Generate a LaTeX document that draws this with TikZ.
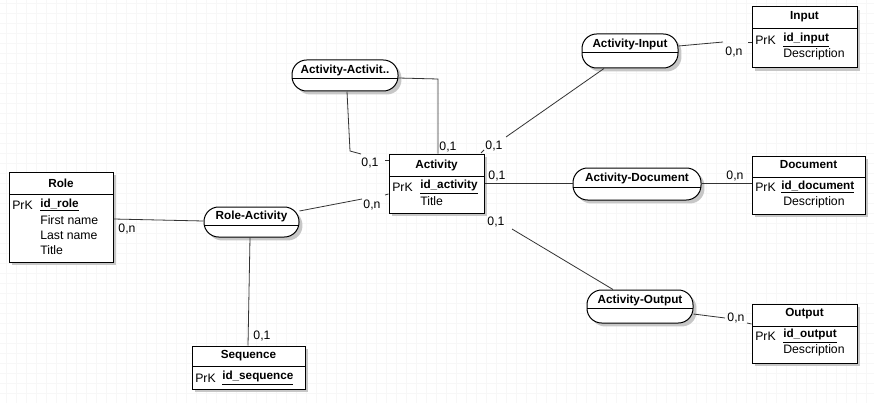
\documentclass[tikz,border=0pt]{standalone}
\usepackage{fontspec}
\setmainfont{Liberation Sans}
\usetikzlibrary{fit,shadows}
\begin{document}
\begin{tikzpicture}[x=0.75pt,y=-0.75pt,
  ent/.style={draw=black, line width=0.75pt, fill=white, inner sep=0pt,
    drop shadow={shadow xshift=2.6pt, shadow yshift=-2.6pt, fill=black!22, opacity=1}},
  rel/.style={ent, rounded corners=11pt},
  ttl/.style={font=\fontsize{8.8}{10}\selectfont\bfseries, inner sep=0pt},
  att/.style={font=\fontsize{9.2}{11}\selectfont, anchor=west, inner sep=0pt},
  key/.style={att, font=\fontsize{8.8}{10}\selectfont\bfseries},
  card/.style={font=\fontsize{9.2}{11}\selectfont, inner sep=0pt},
  conn/.style={draw=black!80, line width=0.6pt},
  sepline/.style={line width=0.75pt},
  gridline/.style={draw=black!3, line width=0.5pt}
]
\path[use as bounding box, fill=white] (0,0) rectangle (874,403);
\foreach \x in {6,16,...,866} \draw[gridline] (\x,0) -- (\x,403);
\foreach \y in {3,13,...,403} \draw[gridline] (0,\y) -- (874,\y);

% ---------- entities ----------
\node[ent, fit={(9,172) (113,262)}] (role) {};
\draw[sepline] (9,194) -- (113,194);
\node[ttl] (roleT) at (61,183) {Role};
\node[att] (roleK) at (12,205) {PrK};
\node[key] (roleA1) at (40,205) {\underline{id\_role}};
\node[att] (roleA2) at (40,220) {First name};
\node[att] (roleA3) at (40,235) {Last name};
\node[att] (roleA4) at (40,250) {Title};

\node[ent, fit={(389,154) (484,213)}] (act) {};
\draw[sepline] (389,176) -- (484,176);
\node[ttl] (actT) at (436.5,165) {Activity};
\node[att] (actK) at (392,187) {PrK};
\node[key] (actA1) at (420,187) {\underline{id\_activity}};
\node[att] (actA2) at (420,201) {Title};

\node[ent, fit={(752,7) (857,68)}] (inp) {};
\draw[sepline] (752,29) -- (857,29);
\node[ttl] (inpT) at (804.5,17) {Input};
\node[att] (inpK) at (755,40) {PrK};
\node[key] (inpA1) at (783,40) {\underline{id\_input}};
\node[att] (inpA2) at (783,54) {Description};

\node[ent, fit={(752,156) (865,214)}] (doc) {};
\draw[sepline] (752,177) -- (865,177);
\node[ttl] (docT) at (808.5,165) {Document};
\node[att] (docK) at (755,187) {PrK};
\node[key] (docA1) at (781,187) {\underline{id\_document}};
\node[att] (docA2) at (783,202) {Description};

\node[ent, fit={(752,304) (857,363)}] (out) {};
\draw[sepline] (752,326) -- (857,326);
\node[ttl] (outT) at (804.5,314) {Output};
\node[att] (outK) at (755,336) {PrK};
\node[key] (outA1) at (783,336) {\underline{id\_output}};
\node[att] (outA2) at (783,350) {Description};

\node[ent, fit={(192,346) (305,389)}] (seq) {};
\draw[sepline] (192,366) -- (305,366);
\node[ttl] (seqT) at (248.5,356) {Sequence};
\node[att] (seqK) at (195,378) {PrK};
\node[key] (seqA1) at (222,378) {\underline{id\_sequence}};

% ---------- relations ----------
\node[rel, fit={(204,207) (299,237)}] (ra) {};
\draw[sepline] (204,225) -- (299,225);
\node[ttl] (raT) at (251.5,216) {Role-Activity};

\node[rel, fit={(292,60) (398,91)}] (aa) {};
\draw[sepline] (292,79) -- (398,79);
\node[ttl] (aaT) at (345,70) {Activity-Activit..};

\node[rel, fit={(582,34) (678,68)}] (ai) {};
\draw[sepline] (582,53) -- (678,53);
\node[ttl] (aiT) at (630,44) {Activity-Input};

\node[rel, fit={(573,168) (701,200)}] (ad) {};
\draw[sepline] (573,187) -- (701,187);
\node[ttl] (adT) at (637,178) {Activity-Document};

\node[rel, fit={(587,290) (693,323)}] (ao) {};
\draw[sepline] (587,308) -- (693,308);
\node[ttl] (aoT) at (640,300) {Activity-Output};

% ---------- connectors ----------
% Role - Role-Activity
\draw[conn] (role.east |- 0,219) -- (ra.west |- 0,221);
\node[card] (c1) at (127,229) {0,n};
% Role-Activity - Activity
\coordinate (p2) at (362,199);
\draw[conn] (ra.east |- 0,211) -- (p2);
\draw[conn] (385,195) -- (act.west |- 0,194);
\node[card] (c2) at (372,205) {0,n};
% Role-Activity - Sequence
\draw[conn] (ra.south -| 250,0) -- (seq.north -| 248,0);
\node[card] (c3) at (262,336) {0,1};
% Activity-Activit.. - Activity (left)
\coordinate (p4a) at (350,151);
\coordinate (p4b) at (361,154);
\draw[conn] (aa.south -| 347,0) -- (p4a) -- (p4b);
\draw[conn] (385,160) -- (act.west |- 0,160);
\node[card] (c4) at (370,163) {0,1};
% Activity-Activit.. - Activity (top)
\coordinate (p5) at (438,79);
\draw[conn] (aa.east |- 0,78) -- (p5) -- (act.north -| 438,0);
\node[card] (c5) at (448,147) {0,1};
% Activity-Input - Activity
\coordinate (p6) at (506,137);
\draw[conn] (ai.south -| 604,0) -- (p6);
\draw[conn] (481,153) -- (484,150);
\node[card] (c6) at (494,146) {0,1};
% Activity-Input - Input
\coordinate (p7) at (723,42);
\draw[conn] (ai.east |- 0,46) -- (p7);
\draw[conn] (748,42) -- (inp.west |- 0,42);
\node[card] (c7) at (734,52) {0,n};
% Activity - Activity-Document
\draw[conn] (act.east |- 0,183) -- (ad.west |- 0,183);
\node[card] (c8) at (497,176) {0,1};
% Activity-Document - Document
\draw[conn] (ad.east |- 0,183) -- (doc.west |- 0,183);
\node[card] (c9) at (735,176) {0,n};
% Activity - Activity-Output
\coordinate (p10) at (512,229);
\draw[conn] (p10) -- (ao.north -| 613,0);
\node[card] (c10) at (496,222) {0,1};
% Activity-Output - Output
\coordinate (p11) at (725,318);
\draw[conn] (ao.east |- 0,314) -- (p11);
\draw[conn] (747,323) -- (out.west |- 0,324);
\node[card] (c11) at (736,318) {0,n};
\end{tikzpicture}
\end{document}
